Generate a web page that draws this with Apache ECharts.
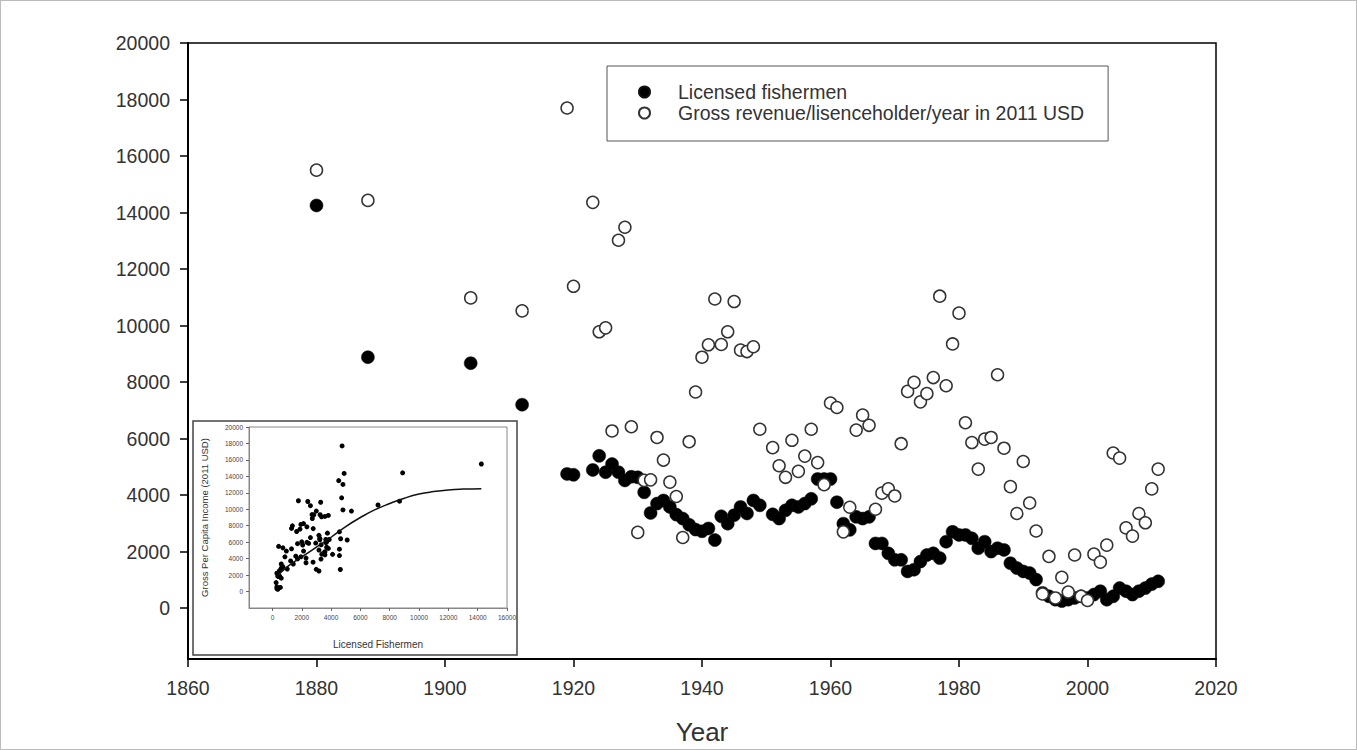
<!DOCTYPE html>
<html>
<head>
<meta charset="utf-8">
<script src="https://cdn.jsdelivr.net/npm/echarts@6/dist/echarts.min.js"></script>
<style>
  html, body { margin: 0; padding: 0; background: #fff; }
  #wrap { position: relative; width: 1357px; height: 750px; }
  #chart { position: absolute; left: 0; top: 0; width: 1357px; height: 750px; }
  #edge { position: absolute; left: 0; top: 0; width: 1357px; height: 750px; box-sizing: border-box; border: 1px solid #bbb; pointer-events: none; }
</style>
</head>
<body>
<div id="wrap">
  <div id="chart"></div>
  <div id="edge"></div>
</div>
<script>
var years = [1880, 1888, 1904, 1912, 1919, 1920, 1923, 1924, 1925, 1926, 1927, 1928, 1929, 1930,
  1931, 1932, 1933, 1934, 1935, 1936, 1937, 1938, 1939, 1940, 1941, 1942, 1943, 1944, 1945, 1946,
  1947, 1948, 1949, 1951, 1952, 1953, 1954, 1955, 1956, 1957, 1958, 1959, 1960, 1961, 1962, 1963,
  1964, 1965, 1966, 1967, 1968, 1969, 1970, 1971, 1972, 1973, 1974, 1975, 1976, 1977, 1978, 1979,
  1980, 1981, 1982, 1983, 1984, 1985, 1986, 1987, 1988, 1989, 1990, 1991, 1992, 1993, 1994, 1995,
  1996, 1997, 1998, 1999, 2000, 2001, 2002, 2003, 2004, 2005, 2006, 2007, 2008, 2009, 2010, 2011];

var fishermen = [14250, 8880, 8670, 7200, 4750, 4720, 4890, 5390, 4810, 5100, 4810, 4520, 4650, 4630,
  4100, 3370, 3700, 3810, 3580, 3310, 3170, 2950, 2780, 2720, 2820, 2410, 3250, 2990, 3290, 3580,
  3350, 3810, 3640, 3320, 3170, 3460, 3640, 3580, 3700, 3870, 4570, 4570, 4570, 3750, 2990, 2770,
  3230, 3170, 3230, 2290, 2290, 1940, 1710, 1710, 1300, 1360, 1650, 1880, 1940, 1770, 2350, 2700,
  2590, 2590, 2470, 2120, 2350, 2000, 2120, 2060, 1590, 1420, 1300, 1240, 1010, 540, 420, 300,
  250, 300, 360, 420, 360, 480, 600, 300, 420, 710, 600, 480, 600, 710, 850, 950];

var revenue = [15500, 14430, 10980, 10520, 17700, 11390, 14360, 9780, 9920, 6270, 13020, 13480, 6420, 2680,
  4520, 4540, 6040, 5240, 4460, 3950, 2500, 5890, 7650, 8880, 9320, 10940, 9330, 9780, 10850, 9130,
  9080, 9250, 6330, 5680, 5040, 4630, 5940, 4840, 5380, 6330, 5150, 4370, 7260, 7100, 2700, 3570,
  6300, 6830, 6470, 3500, 4070, 4220, 3970, 5820, 7670, 7990, 7300, 7590, 8160, 11040, 7870, 9350,
  10440, 6560, 5860, 4920, 5980, 6040, 8260, 5660, 4300, 3350, 5190, 3720, 2730, 500, 1830, 360,
  1090, 570, 1880, 420, 270, 1910, 1630, 2230, 5490, 5310, 2840, 2550, 3350, 3020, 4220, 4920];

// fitted curve in the inset
var fitX = [250, 1000, 2000, 3000, 4000, 5000, 6000, 7000, 8000, 9000, 10000, 11000, 12000, 13000, 14250];
var fitY = [1700, 3000, 4200, 5400, 6600, 7900, 9000, 9950, 10700, 11350, 11850, 12150, 12350, 12450, 12500];

var yTicks = [0, 2000, 4000, 6000, 8000, 10000, 12000, 14000, 16000, 18000, 20000];
var insetXTicks = [0, 2000, 4000, 6000, 8000, 10000, 12000, 14000, 16000];
var insetYTicks = [0, 2000, 4000, 6000, 8000, 10000, 12000, 14000, 16000, 18000, 20000];

(function() {
  var ink = '#333';
  var plain = function(v) { return String(v); };
  var chart = echarts.init(document.getElementById('chart'), null, { renderer: 'svg' });

  var fishData = years.map(function(y, i) { return [y, fishermen[i]]; });
  var revData = years.map(function(y, i) { return [y, revenue[i]]; });
  var pairData = years.map(function(y, i) { return [fishermen[i], revenue[i]]; });
  var fitData = fitX.map(function(x, i) { return [x, fitY[i]]; });

  chart.setOption({
    animation: false,
    textStyle: { fontFamily: 'Liberation Sans, Arial, sans-serif' },
    grid: [
      { left: 188, top: 43, right: 141, bottom: 87, show: true, borderColor: '#000', borderWidth: 1.5 },
      { left: 249, top: 427, width: 258, height: 181, show: true, borderColor: '#888', borderWidth: 1, backgroundColor: '#fff' }
    ],
    legend: {
      orient: 'vertical',
      left: 607,
      top: 66,
      padding: [16, 24, 18, 31],
      itemGap: 1,
      itemWidth: 11,
      itemHeight: 11,
      borderColor: '#555',
      borderWidth: 1,
      textStyle: { color: ink, fontSize: 19.5, padding: [0, 0, 0, 23] },
      data: ['Licensed fishermen', 'Gross revenue/lisenceholder/year in 2011 USD']
    },
    graphic: [{
      type: 'rect',
      shape: { x: 193, y: 421, width: 324, height: 234 },
      style: { fill: 'none', stroke: '#444', lineWidth: 1.5 }
    }],
    xAxis: [{
      type: 'value',
      gridIndex: 0,
      min: 1860,
      max: 2020,
      interval: 20,
      name: 'Year',
      nameLocation: 'middle',
      nameGap: 60,
      nameTextStyle: { color: ink, fontSize: 26 },
      axisLine: { onZero: false, lineStyle: { color: '#000', width: 2 } },
      axisTick: { length: 8, lineStyle: { color: '#000', width: 1.5 } },
      axisLabel: { color: ink, fontSize: 19.5, margin: 19, formatter: plain },
      splitLine: { show: false }
    }, {
      type: 'value',
      gridIndex: 1,
      min: -1600,
      max: 16000,
      name: 'Licensed Fishermen',
      nameLocation: 'middle',
      nameGap: 31,
      nameTextStyle: { color: ink, fontSize: 10 },
      axisLine: { onZero: false, lineStyle: { color: '#888', width: 1 } },
      axisTick: { length: 3, customValues: insetXTicks, lineStyle: { color: '#666' } },
      axisLabel: { color: '#444', fontSize: 6.5, margin: 6, customValues: insetXTicks, formatter: plain },
      splitLine: { show: false }
    }],
    yAxis: [{
      type: 'value',
      gridIndex: 0,
      min: -1800,
      max: 20000,
      axisLine: { onZero: false, lineStyle: { color: '#000', width: 2 } },
      axisTick: { length: 8, customValues: yTicks, lineStyle: { color: '#000', width: 1.5 } },
      axisLabel: { color: ink, fontSize: 19.5, margin: 18, customValues: yTicks, formatter: plain },
      splitLine: { show: false }
    }, {
      type: 'value',
      gridIndex: 1,
      min: -2000,
      max: 20000,
      name: 'Gross Per Capita Income (2011 USD)',
      nameLocation: 'middle',
      nameRotate: 90,
      nameGap: 40,
      nameTextStyle: { color: ink, fontSize: 9.5 },
      axisLine: { onZero: false, lineStyle: { color: '#888', width: 1 } },
      axisTick: { length: 3, customValues: insetYTicks, lineStyle: { color: '#666' } },
      axisLabel: { color: '#444', fontSize: 6.5, margin: 6, customValues: insetYTicks, formatter: plain },
      splitLine: { show: false }
    }],
    series: [{
      name: 'Licensed fishermen',
      type: 'scatter',
      xAxisIndex: 0,
      yAxisIndex: 0,
      symbolSize: 13,
      itemStyle: { color: '#000', borderColor: '#111', borderWidth: 0.5, opacity: 1 },
      data: fishData
    }, {
      name: 'Gross revenue/lisenceholder/year in 2011 USD',
      type: 'scatter',
      xAxisIndex: 0,
      yAxisIndex: 0,
      symbolSize: 12,
      itemStyle: { color: '#fff', borderColor: '#333', borderWidth: 1.5, opacity: 1 },
      data: revData
    }, {
      name: 'inset',
      type: 'scatter',
      xAxisIndex: 1,
      yAxisIndex: 1,
      symbolSize: 5,
      itemStyle: { color: '#000', opacity: 1 },
      data: pairData
    }, {
      name: 'fit',
      type: 'line',
      xAxisIndex: 1,
      yAxisIndex: 1,
      smooth: true,
      showSymbol: false,
      symbol: 'none',
      lineStyle: { color: '#111', width: 1.5 },
      data: fitData
    }]
  });
  window.addEventListener('resize', function() { chart.resize(); });
})();
</script>
</body>
</html>
